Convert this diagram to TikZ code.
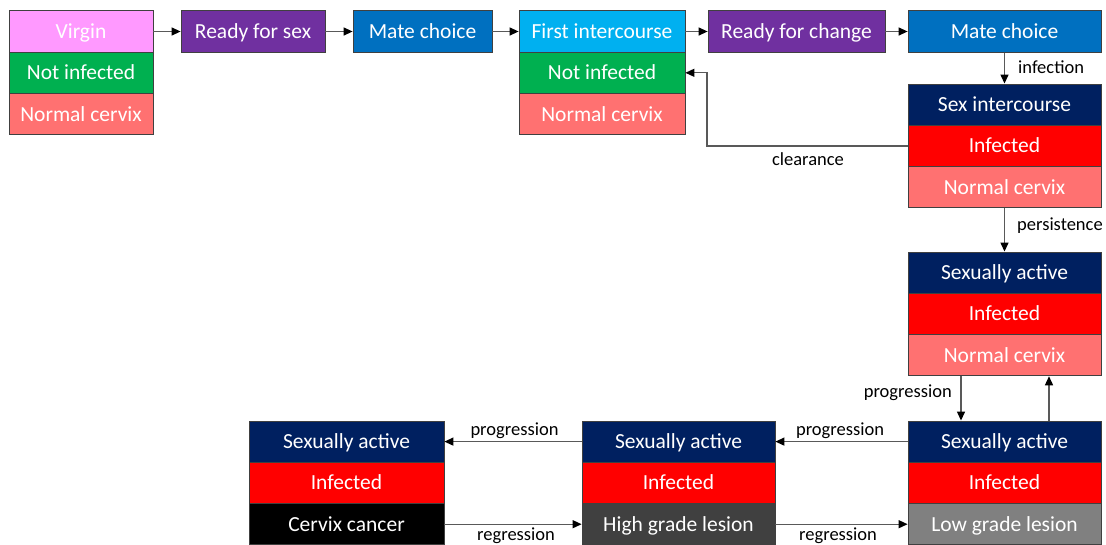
\documentclass[tikz,border=0pt]{standalone}
\usepackage{fontspec}
\setmainfont{Carlito}
\usetikzlibrary{arrows.meta}
\definecolor{cpink}{HTML}{FF99FF}
\definecolor{cpurple}{HTML}{7030A0}
\definecolor{cblue}{HTML}{0070C0}
\definecolor{clblue}{HTML}{00B0F0}
\definecolor{cgreen}{HTML}{00B050}
\definecolor{csalmon}{HTML}{FF7171}
\definecolor{cnavy}{HTML}{002060}
\definecolor{cred}{HTML}{FF0000}
\definecolor{chigh}{HTML}{404040}
\definecolor{clow}{HTML}{808080}
\begin{document}
\begin{tikzpicture}[x=1pt,y=-1pt,
  cell/.style={draw=black!75, line width=0.8pt, minimum height=41.3pt, inner sep=0pt,
    text=white, font=\fontsize{21.5}{24}\selectfont, text height=15pt, text depth=1pt, anchor=center},
  lbl/.style={font=\fontsize{18.5}{20}\selectfont, inner sep=0pt, text=black},
  arr/.style={draw=black!65, line width=1.3pt, -{Triangle[length=9pt,width=8pt,color=black]}}
]
\useasboundingbox (0,0) rectangle (1106,544);
\clip (0,0) rectangle (1106,544);

% top row
\node[cell, fill=cpink, minimum width=144pt] (v1) at (81,31.5) {Virgin};
\node[cell, fill=cgreen, minimum width=144pt] (v2) at (81,72.8) {Not infected};
\node[cell, fill=csalmon, minimum width=144pt] (v3) at (81,114.1) {Normal cervix};

\node[cell, fill=cpurple, minimum width=144pt] (rs) at (253,31.5) {Ready for sex};
\node[cell, fill=cblue, minimum width=139pt] (mc1) at (422.5,31.5) {Mate choice};

\node[cell, fill=clblue, minimum width=166pt] (f1) at (602,31.5) {First intercourse};
\node[cell, fill=cgreen, minimum width=166pt] (f2) at (602,72.8) {Not infected};
\node[cell, fill=csalmon, minimum width=166pt] (f3) at (602,114.1) {Normal cervix};

\node[cell, fill=cpurple, minimum width=177pt] (rc) at (796.5,31.5) {Ready for change};
\node[cell, fill=cblue, minimum width=193pt] (mc2) at (1004.5,31.5) {Mate choice};

% sex intercourse
\node[cell, fill=cnavy, minimum width=193pt] (si1) at (1004.5,104.6) {Sex intercourse};
\node[cell, fill=cred, minimum width=193pt] (si2) at (1004.5,145.9) {Infected};
\node[cell, fill=csalmon, minimum width=193pt] (si3) at (1004.5,187.2) {Normal cervix};

% sexually active, normal
\node[cell, fill=cnavy, minimum width=193pt] (sa1) at (1004.5,272.6) {Sexually active};
\node[cell, fill=cred, minimum width=193pt] (sa2) at (1004.5,313.9) {Infected};
\node[cell, fill=csalmon, minimum width=193pt] (sa3) at (1004.5,355.2) {Normal cervix};

% low grade
\node[cell, fill=cnavy, minimum width=193pt] (br1) at (1004.5,441.6) {Sexually active};
\node[cell, fill=cred, minimum width=193pt] (br2) at (1004.5,482.9) {Infected};
\node[cell, fill=clow, minimum width=193pt] (br3) at (1004.5,524.2) {Low grade lesion};

% high grade
\node[cell, fill=cnavy, minimum width=193pt] (m1) at (678.5,441.6) {Sexually active};
\node[cell, fill=cred, minimum width=193pt] (m2) at (678.5,482.9) {Infected};
\node[cell, fill=chigh, minimum width=193pt] (m3) at (678.5,524.2) {High grade lesion};

% cancer
\node[cell, fill=cnavy, minimum width=195pt] (l1) at (346.5,441.6) {Sexually active};
\node[cell, fill=cred, minimum width=195pt] (l2) at (346.5,482.9) {Infected};
\node[cell, fill=black, minimum width=195pt] (l3) at (346.5,524.2) {Cervix cancer};

% connectors
\draw[arr] (v1.east) -- (rs.west);
\draw[arr] (rs.east) -- (mc1.west);
\draw[arr] (mc1.east) -- (f1.west);
\draw[arr] (f1.east) -- (rc.west);
\draw[arr] (rc.east) -- (mc2.west);
\draw[arr] (mc2.south) -- (si1.north);
\node[lbl, anchor=west] (linf) at (1018,67) {infection};

\coordinate (clx) at (707,0);
\draw[arr] (si2.west) -- (si2.west -| clx) |- (f2.east);
\node[lbl] (lcl) at (808,159) {clearance};

\draw[arr] (si3.south) -- (sa1.north);
\node[lbl, anchor=west] (lper) at (1017,226) {persistence};

\coordinate (dnx) at (961,0);
\coordinate (upx) at (1049,0);
\draw[arr] (sa3.south -| dnx) -- (br1.north -| dnx);
\node[lbl, anchor=east] (lpr1) at (952,393) {progression};
\draw[arr] (br1.north -| upx) -- (sa3.south -| upx);

\draw[arr] (br1.west) -- (m1.east);
\node[lbl] (lpr2) at (840,431) {progression};
\draw[arr] (m1.west) -- (l1.east);
\node[lbl] (lpr3) at (514.5,431) {progression};

\draw[arr] (l3.east) -- (m3.west);
\node[lbl] (lrg1) at (516,535.5) {regression};
\draw[arr] (m3.east) -- (br3.west);
\node[lbl] (lrg2) at (838,535.5) {regression};
\end{tikzpicture}
\end{document}
